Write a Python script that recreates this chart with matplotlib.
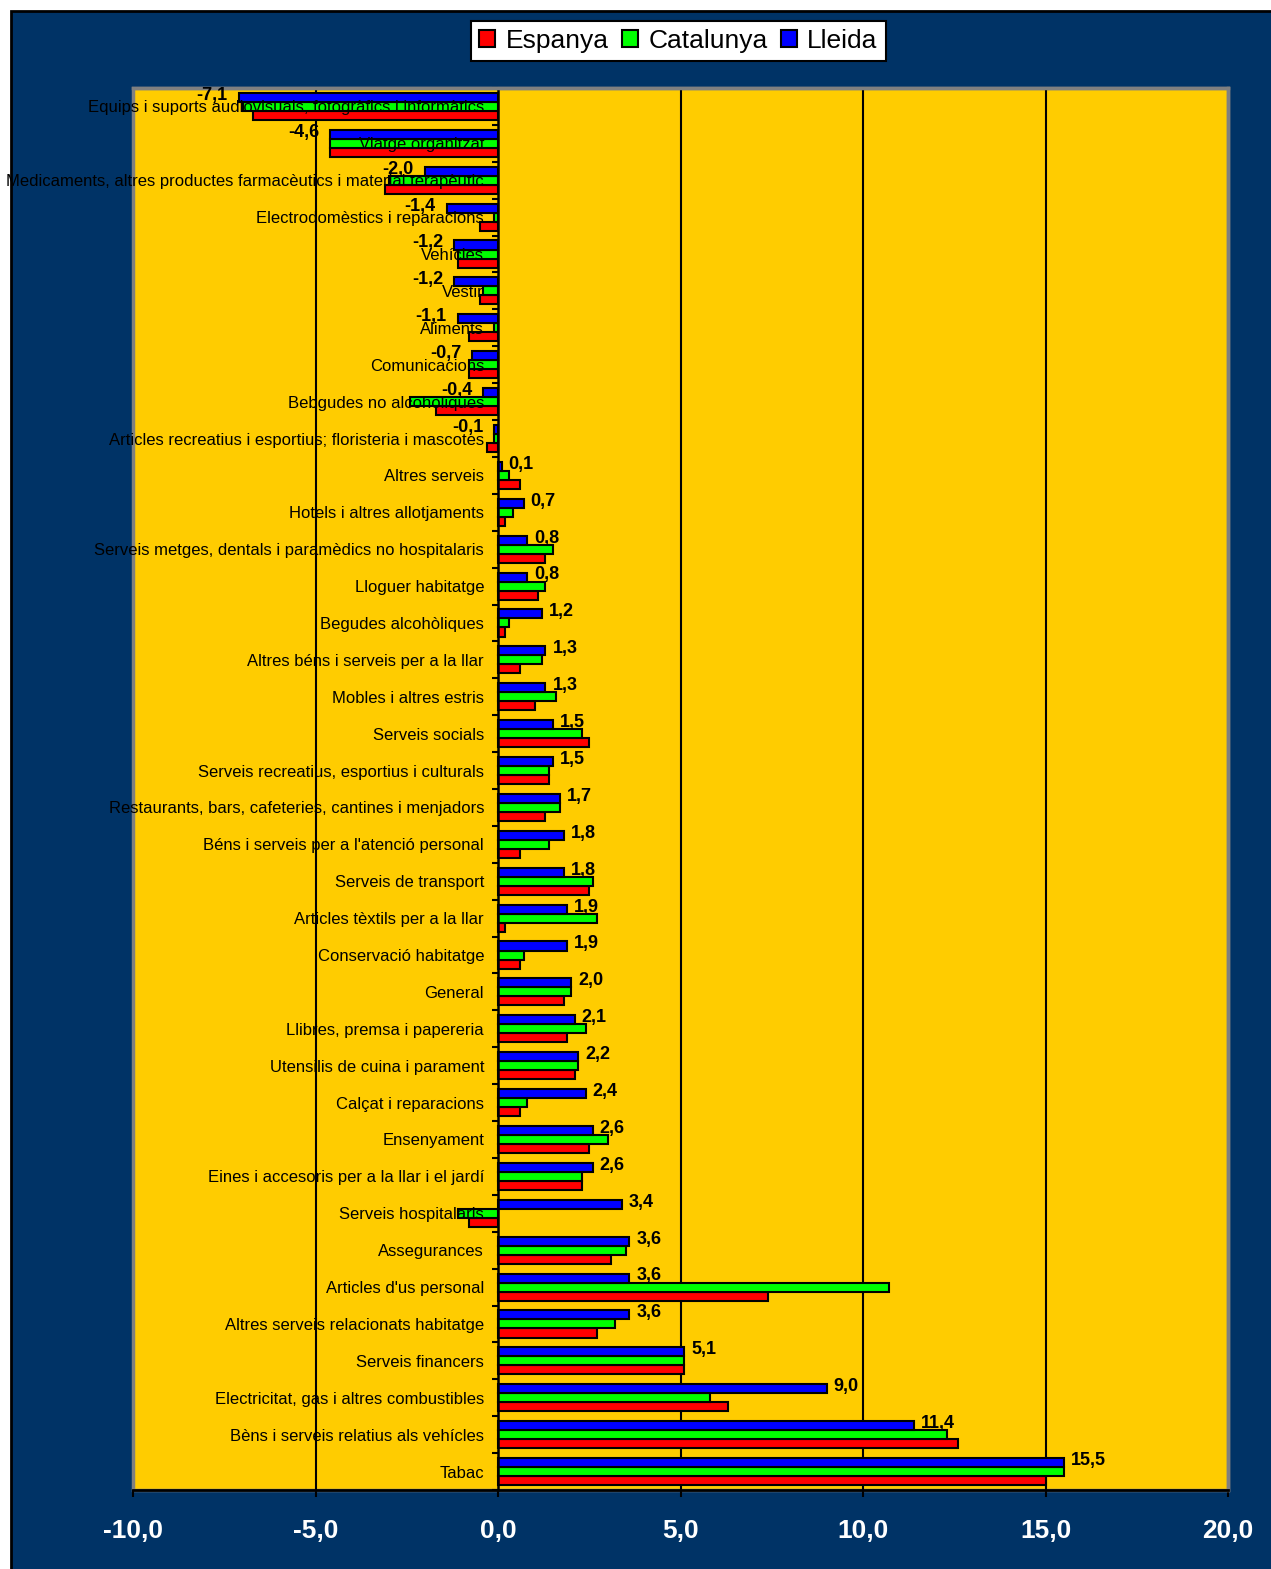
import numpy as np
import matplotlib.pyplot as plt
from matplotlib.patches import Rectangle
from matplotlib.ticker import FixedLocator


plt.rcParams["font.family"] = ["Liberation Sans", "DejaVu Sans"]

NAVY = "#003366"
YELLOW = "#FFCC00"
RED = "#FF0000"
GREEN = "#00FF00"
BLUE = "#0000FF"

categories = [
    "Equips i suports audiovisuals, fotogràfics i informàtics",
    "Viatge organitzat",
    "Medicaments, altres productes farmacèutics i material terapèutic",
    "Electrodomèstics i reparacions",
    "Vehícles",
    "Vestir",
    "Aliments",
    "Comunicacions",
    "Bebgudes no alcohòliques",
    "Articles recreatius i esportius; floristeria i mascotes",
    "Altres serveis",
    "Hotels i altres allotjaments",
    "Serveis metges, dentals i paramèdics no hospitalaris",
    "Lloguer habitatge",
    "Begudes alcohòliques",
    "Altres béns i serveis per a la llar",
    "Mobles i altres estris",
    "Serveis socials",
    "Serveis recreatius, esportius i culturals",
    "Restaurants, bars, cafeteries, cantines i menjadors",
    "Béns i serveis per a l'atenció personal",
    "Serveis de transport",
    "Articles tèxtils per a la llar",
    "Conservació habitatge",
    "General",
    "Llibres, premsa i papereria",
    "Utensilis de cuina i parament",
    "Calçat i reparacions",
    "Ensenyament",
    "Eines i accesoris per a la llar i el jardí",
    "Serveis hospitalaris",
    "Assegurances",
    "Articles d'us personal",
    "Altres serveis relacionats habitatge",
    "Serveis financers",
    "Electricitat, gas i altres combustibles",
    "Bèns i serveis relatius als vehícles",
    "Tabac",
]

lleida = [-7.1, -4.6, -2.0, -1.4, -1.2, -1.2, -1.1, -0.7, -0.4, -0.1,
          0.1, 0.7, 0.8, 0.8, 1.2, 1.3, 1.3, 1.5, 1.5, 1.7,
          1.8, 1.8, 1.9, 1.9, 2.0, 2.1, 2.2, 2.4, 2.6, 2.6,
          3.4, 3.6, 3.6, 3.6, 5.1, 9.0, 11.4, 15.5]

catalunya = [-7.0, -4.6, -3.0, -0.1, -1.1, -0.4, -0.1, -0.8, -2.4, -0.1,
             0.3, 0.4, 1.5, 1.3, 0.3, 1.2, 1.6, 2.3, 1.4, 1.7,
             1.4, 2.6, 2.7, 0.7, 2.0, 2.4, 2.2, 0.8, 3.0, 2.3,
             -1.1, 3.5, 10.7, 3.2, 5.1, 5.8, 12.3, 15.5]

espanya = [-6.7, -4.6, -3.1, -0.5, -1.1, -0.5, -0.8, -0.8, -1.7, -0.3,
           0.6, 0.2, 1.3, 1.1, 0.2, 0.6, 1.0, 2.5, 1.4, 1.3,
           0.6, 2.5, 0.2, 0.6, 1.8, 1.9, 2.1, 0.6, 2.5, 2.3,
           -0.8, 3.1, 7.4, 2.7, 5.1, 6.3, 12.6, 15.0]

x_ticks = [-10, -5, 0, 5, 10, 15, 20]


def fmt(v):
    return f"{v:.1f}".replace(".", ",")


fig = plt.figure(figsize=(12.71, 15.69), dpi=100, facecolor="white")

# dark blue chart area with black border
fig.add_artist(Rectangle((11 / 1271, -0.01), 1.0, 1 - 11 / 1569 + 0.01,
                         transform=fig.transFigure, facecolor=NAVY,
                         edgecolor="black", linewidth=2, zorder=0))

ax = fig.add_axes([133 / 1271, 1 - 1490 / 1569, 1095 / 1271, 1402 / 1569])
ax.set_facecolor(YELLOW)
ax.patch.set_edgecolor("#808080")
ax.patch.set_linewidth(2.5)

n = len(categories)
y = np.arange(n)
h = 0.245
kw = dict(height=h, edgecolor="black", linewidth=1.5)
ax.barh(y + h, espanya, color=RED, label="Espanya", **kw)
ax.barh(y, catalunya, color=GREEN, label="Catalunya", **kw)
ax.barh(y - h, lleida, color=BLUE, label="Lleida", **kw)

# value labels (Lleida)
for yi, v in zip(y, lleida):
    if v >= 0:
        ax.annotate(fmt(v), (v, yi - h), xytext=(5, 1.5), textcoords="offset points",
                    ha="left", va="center", fontsize=13, fontweight="bold")
    else:
        ax.annotate(fmt(v), (v, yi - h), xytext=(-8, 1.5), textcoords="offset points",
                    ha="right", va="center", fontsize=13, fontweight="bold")

for gx in [-5, 5, 10, 15]:
    ax.axvline(gx, color="black", linewidth=1.5, zorder=0.5)

ax.set_xlim(-10, 20)
ax.set_ylim(n - 0.5, -0.5)

ax.set_xticks(x_ticks)
ax.set_xticklabels([fmt(t) for t in x_ticks])
ax.tick_params(axis="x", direction="out", length=5, width=1.5, color="black",
               labelcolor="white", labelsize=19, pad=16)
for lab in ax.get_xticklabels():
    lab.set_fontweight("bold")

ax.set_yticks(y)
ax.set_yticklabels(categories)
ax.yaxis.set_minor_locator(FixedLocator(np.arange(n + 1) - 0.5))
ax.tick_params(axis="y", which="major", length=0, pad=10, labelsize=12)
ax.tick_params(axis="y", which="minor", direction="out", length=4, width=1.5,
               color="black")
for lab in ax.get_yticklabels():
    lab.set_y(lab.get_position()[1])

ax.spines["left"].set_position(("data", 0))
ax.spines["left"].set_linewidth(1.8)
ax.spines["bottom"].set_linewidth(2)
ax.spines["top"].set_color("#808080")
ax.spines["right"].set_color("#808080")
ax.spines["top"].set_linewidth(2.5)
ax.spines["right"].set_linewidth(2.5)

handles, labels = ax.get_legend_handles_labels()
leg = fig.legend(handles, labels,
                 loc="center", bbox_to_anchor=(678.5 / 1271, 1 - 41 / 1569),
                 ncol=3, fontsize=19, frameon=True, fancybox=False,
                 framealpha=1, edgecolor="black", handlelength=0.6,
                 handleheight=0.6, handletextpad=0.4, columnspacing=0.5,
                 borderpad=0.3)
leg.get_frame().set_linewidth(1.5)

fig.savefig("out.png", dpi=100, facecolor="white")
